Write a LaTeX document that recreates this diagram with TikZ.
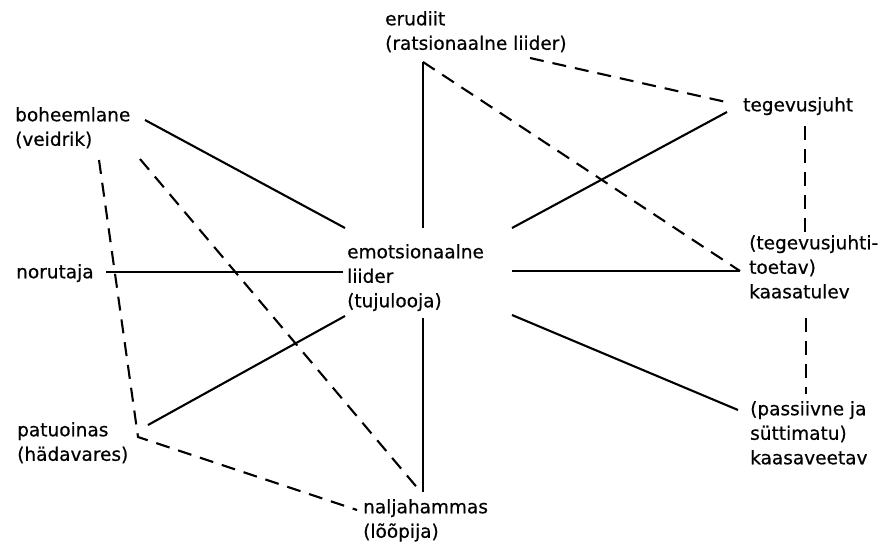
\documentclass[tikz,border=0pt]{standalone}
\usepackage{fontspec}
\setmainfont{DejaVu Sans}[FakeBold=0.6]
\begin{document}
\begin{tikzpicture}[x=1pt,y=-1pt,
  lbl/.style={anchor=north west,inner sep=0pt,align=left,font=\fontsize{18.5}{24.5}\selectfont},
  solidline/.style={line width=2.1pt},
  dashline/.style={line width=2.1pt,dash pattern=on 14pt off 9pt}]
\useasboundingbox (0,0) rectangle (881,543);
% labels (top = baseline - ascent)
\node[lbl] (erudiit) at (385,11) {erudiit\\(ratsionaalne liider)};
\node[lbl] (bohe) at (15,107) {boheemlane\\(veidrik)};
\node[lbl] (noru) at (16,264) {norutaja};
\node[lbl] (patu) at (17,422) {patuoinas\\(hädavares)};
\node[lbl] (emo) at (347,244) {emotsionaalne\\liider\\(tujulooja)};
\node[lbl] (nali) at (363,499) {naljahammas\\(lõõpija)};
\node[lbl] (tege) at (743,97) {tegevusjuht};
\node[lbl] (kaas) at (749,235) {(tegevusjuhti-\\toetav)\\kaasatulev};
\node[lbl] (pass) at (750,401) {(passiivne ja\\süttimatu)\\kaasaveetav};
% connector end points
\coordinate (eruC) at (423,62);
\coordinate (eruR) at (530,58);
\coordinate (emoTop) at (423,228);
\coordinate (emoBot) at (423,318);
\coordinate (emoNW) at (345,228);
\coordinate (emoW) at (343,272);
\coordinate (emoSW) at (345,316);
\coordinate (emoNE) at (512,228);
\coordinate (emoE) at (512,271);
\coordinate (emoSE) at (512,315);
\coordinate (bohR) at (145,120);
\coordinate (bohB) at (99,160);
\coordinate (bohD) at (140,159);
\coordinate (noruR) at (106,272);
\coordinate (patuR) at (148,425);
\coordinate (patuC) at (138,437);
\coordinate (naliL) at (357,510);
\coordinate (naliT) at (423,492);
\coordinate (naliTL) at (420,491);
\coordinate (tegeL) at (727,112);
\coordinate (tegeLd) at (726,102);
\coordinate (tegeB) at (805,126);
\coordinate (kaasT) at (805,233);
\coordinate (kaasL) at (740,271);
\coordinate (kaasB) at (806,318);
\coordinate (passT) at (806,394);
\coordinate (passL) at (738,410);
% solid connectors
\draw[solidline] (bohR) -- (emoNW);
\draw[solidline] (noruR) -- (emoW);
\draw[solidline] (patuR) -- (emoSW);
\draw[solidline] (eruC) -- (emoTop);
\draw[solidline] (emoBot) -- (naliT);
\draw[solidline] (emoNE) -- (tegeL);
\draw[solidline] (emoE) -- (kaasL);
\draw[solidline] (emoSE) -- (passL);
% dashed connectors
\draw[dashline] (eruC) -- (kaasL);
\draw[dashline] (eruR) -- (tegeLd);
\draw[dashline] (tegeB) -- (kaasT);
\draw[dashline] (kaasB) -- (passT);
\draw[dashline] (bohB) -- (patuC) -- (naliL);
\draw[dashline] (bohD) -- (naliTL);
\end{tikzpicture}
\end{document}
